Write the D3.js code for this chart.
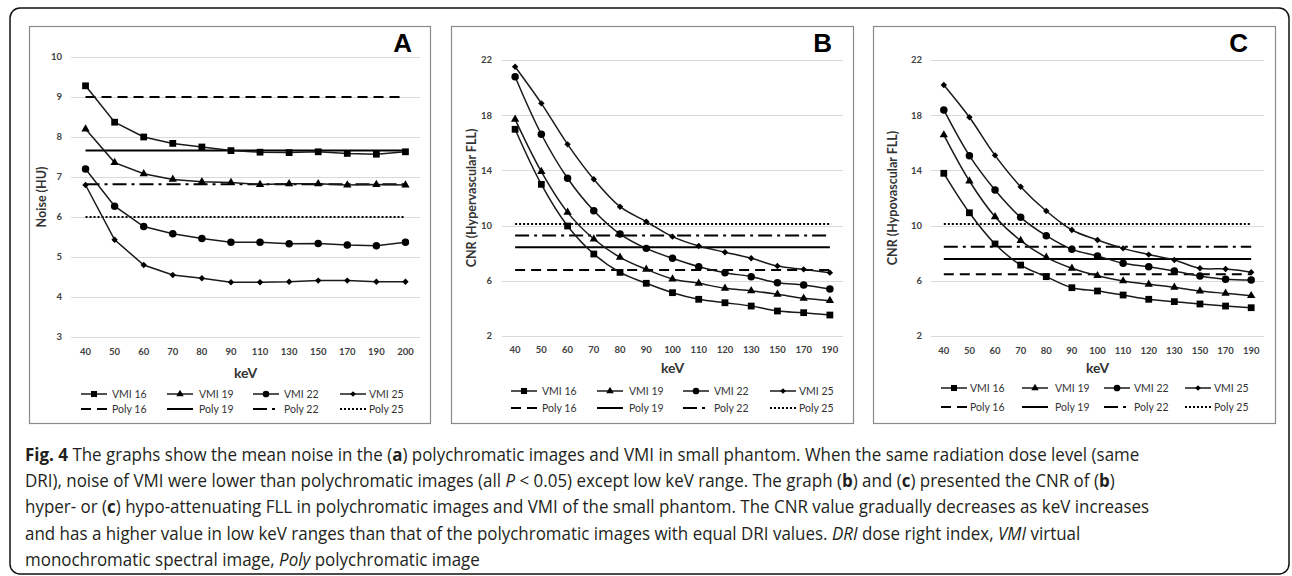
<!DOCTYPE html>
<html>
<head>
<meta charset="utf-8">
<script src="https://cdn.jsdelivr.net/npm/d3@7"></script>
<style>
  body { margin: 0; background: #fff; }
  svg { display: block; }
</style>
</head>
<body>
<svg id="fig" width="1292" height="576"></svg>
<script>
// ---- data ----
const keVA = [40, 50, 60, 70, 80, 90, 110, 130, 150, 170, 190, 200];
const keVBC = [40, 50, 60, 70, 80, 90, 100, 110, 120, 130, 150, 170, 190];

const vmiNames = ["VMI 16", "VMI 19", "VMI 22", "VMI 25"];
const polyNames = ["Poly 16", "Poly 19", "Poly 22", "Poly 25"];

// A: noise (HU)
const noiseVMI16 = [9.28, 8.37, 8.0, 7.84, 7.75, 7.66, 7.62, 7.61, 7.63, 7.59, 7.57, 7.63];
const noiseVMI19 = [8.2, 7.36, 7.08, 6.94, 6.88, 6.86, 6.81, 6.83, 6.83, 6.8, 6.81, 6.8];
const noiseVMI22 = [7.2, 6.27, 5.76, 5.58, 5.46, 5.37, 5.37, 5.33, 5.34, 5.3, 5.28, 5.37];
const noiseVMI25 = [6.8, 5.43, 4.8, 4.55, 4.47, 4.37, 4.37, 4.38, 4.41, 4.41, 4.38, 4.38];
const noisePoly = [9.0, 7.66, 6.82, 6.0];
const noiseTicks = [3, 4, 5, 6, 7, 8, 9, 10];

// B: CNR hypervascular FLL
const hyperVMI16 = [16.98, 12.99, 9.97, 7.94, 6.61, 5.82, 5.14, 4.66, 4.41, 4.17, 3.81, 3.69, 3.52];
const hyperVMI19 = [17.7, 13.91, 10.96, 9.03, 7.7, 6.83, 6.13, 5.82, 5.46, 5.28, 5.02, 4.73, 4.56];
const hyperVMI22 = [20.79, 16.62, 13.43, 11.08, 9.39, 8.35, 7.63, 7.02, 6.59, 6.3, 5.86, 5.7, 5.41];
const hyperVMI25 = [21.51, 18.86, 15.89, 13.36, 11.37, 10.29, 9.2, 8.52, 8.07, 7.63, 7.07, 6.83, 6.59];
const hyperPoly = [6.78, 8.43, 9.29, 10.12];

// C: CNR hypovascular FLL
const hypoVMI16 = [13.79, 10.93, 8.67, 7.14, 6.3, 5.5, 5.26, 4.97, 4.66, 4.49, 4.32, 4.17, 4.05];
const hypoVMI19 = [16.57, 13.23, 10.64, 8.91, 7.7, 6.91, 6.37, 5.99, 5.75, 5.53, 5.26, 5.09, 4.92];
const hypoVMI22 = [18.38, 15.07, 12.58, 10.6, 9.27, 8.28, 7.8, 7.27, 7.02, 6.71, 6.35, 6.11, 6.06];
const hypoVMI25 = [20.19, 17.85, 15.09, 12.82, 11.06, 9.68, 8.96, 8.35, 7.9, 7.51, 6.91, 6.86, 6.62];
const hypoPoly = [6.47, 7.58, 8.47, 10.12];
const cnrTicks = [2, 6, 10, 14, 18, 22];

// ---- styles ----
const FONT = "Lato, 'Open Sans', sans-serif";
const INK = "#1a1a1a";
const symbols = [d3.symbolSquare, d3.symbolTriangle, d3.symbolCircle, d3.symbolDiamond2 || d3.symbolDiamond];
const symbolSizes = [46, 30, 44, 26];
const polyDash = ["10,6", null, "14,5,3,5", "2,2"];

const svg = d3.select("#fig");

// outer frame
svg.append("rect")
    .attr("x", 10).attr("y", 8)
    .attr("width", 1279).attr("height", 566)
    .attr("rx", 10)
    .attr("fill", "none")
    .attr("stroke", "#111")
    .attr("stroke-width", 1.5);

const panels = [
    {
        letter: "A", title: "Noise (HU)",
        box: [29, 26, 430, 423], plotX: [71, 420], plotY: [337, 57],
        domain: [3, 10], ticks: noiseTicks, keV: keVA,
        vmi: [noiseVMI16, noiseVMI19, noiseVMI22, noiseVMI25], poly: noisePoly,
        curve: d3.curveLinear,
        tickRight: 62, titleX: 42, letterX: 412,
        xTickY: 355, keVY: 378, legendY: [394, 409],
        legLine: [81, 167, 253, 340], legText: [112, 199, 284, 369]
    },
    {
        letter: "B", title: "CNR (Hypervascular FLL)",
        box: [451, 26, 853, 423], plotX: [502, 843], plotY: [336, 60],
        domain: [2, 22], ticks: cnrTicks, keV: keVBC,
        vmi: [hyperVMI16, hyperVMI19, hyperVMI22, hyperVMI25], poly: hyperPoly,
        curve: d3.curveCatmullRom.alpha(0.5),
        tickRight: 492, titleX: 472, letterX: 832,
        xTickY: 353, keVY: 373, legendY: [391, 408],
        legLine: [511, 597, 683, 770], legText: [542, 629, 714, 799]
    },
    {
        letter: "C", title: "CNR (Hypovascular FLL)",
        box: [873, 26, 1275, 423], plotX: [931, 1264], plotY: [336, 60],
        domain: [2, 22], ticks: cnrTicks, keV: keVBC,
        vmi: [hypoVMI16, hypoVMI19, hypoVMI22, hypoVMI25], poly: hypoPoly,
        curve: d3.curveCatmullRom.alpha(0.5),
        tickRight: 922, titleX: 893, letterX: 1248,
        xTickY: 354, keVY: 373, legendY: [388, 407],
        legLine: [941, 1022, 1104, 1185], legText: [970, 1055, 1134, 1214]
    }
];

panels.forEach(drawPanel);

function drawPanel(p) {
    const g = svg.append("g");
    const [bx0, by0, bx1, by1] = p.box;

    g.append("rect")
        .attr("x", bx0 + 0.5).attr("y", by0 + 0.5)
        .attr("width", bx1 - bx0).attr("height", by1 - by0)
        .attr("fill", "#fff")
        .attr("stroke", "#8a8a8a")
        .attr("stroke-width", 1.2);

    const x = d3.scaleBand().domain(p.keV).range(p.plotX).padding(0);
    const cx = k => x(k) + x.bandwidth() / 2;
    const y = d3.scaleLinear().domain(p.domain).range(p.plotY);

    // gridlines
    g.append("g").selectAll("line")
        .data(p.ticks)
        .join("line")
        .attr("x1", p.plotX[0]).attr("x2", p.plotX[1])
        .attr("y1", d => Math.round(y(d)) + 0.5)
        .attr("y2", d => Math.round(y(d)) + 0.5)
        .attr("stroke", "#d9d9d9")
        .attr("stroke-width", 1.2);

    // y tick labels
    g.append("g").selectAll("text")
        .data(p.ticks)
        .join("text")
        .attr("x", p.tickRight)
        .attr("y", d => y(d))
        .attr("dy", "0.35em")
        .attr("text-anchor", "end")
        .attr("font-family", FONT)
        .attr("font-weight", 700)
        .attr("font-size", 9.5)
        .attr("fill", "#404040")
        .text(d => d);

    // x tick labels
    g.append("g").selectAll("text")
        .data(p.keV)
        .join("text")
        .attr("x", d => cx(d))
        .attr("y", p.xTickY)
        .attr("text-anchor", "middle")
        .attr("font-family", FONT)
        .attr("font-weight", 700)
        .attr("font-size", 9.5)
        .attr("fill", "#404040")
        .text(d => d);

    // axis titles
    const midX = (p.plotX[0] + p.plotX[1]) / 2;
    const midY = (p.plotY[0] + p.plotY[1]) / 2;
    g.append("text")
        .attr("x", midX).attr("y", p.keVY)
        .attr("text-anchor", "middle")
        .attr("font-family", FONT)
        .attr("font-weight", 700)
        .attr("font-size", 14)
        .attr("fill", "#333")
        .text("keV");

    g.append("text")
        .attr("transform", `translate(${p.titleX},${midY}) rotate(-90)`)
        .attr("text-anchor", "middle")
        .attr("dy", "0.35em")
        .attr("font-family", FONT)
        .attr("font-weight", 700)
        .attr("font-size", 12.5)
        .attr("fill", "#333")
        .text(p.title);

    // panel letter
    g.append("text")
        .attr("x", p.letterX).attr("y", 52)
        .attr("text-anchor", "end")
        .attr("font-family", "'Liberation Sans', Arial, sans-serif")
        .attr("font-weight", 700)
        .attr("font-size", 26)
        .attr("fill", "#000")
        .text(p.letter);

    // polychromatic reference lines
    const first = cx(p.keV[0]), last = cx(p.keV[p.keV.length - 1]);
    g.append("g").selectAll("line")
        .data(p.poly)
        .join("line")
        .attr("x1", first).attr("x2", last)
        .attr("y1", d => y(d)).attr("y2", d => y(d))
        .attr("stroke", "#000")
        .attr("stroke-width", 2)
        .attr("stroke-dasharray", (d, i) => polyDash[i]);

    // VMI series
    const line = d3.line()
        .x((d, i) => cx(p.keV[i]))
        .y(d => y(d))
        .curve(p.curve);

    p.vmi.forEach((vals, s) => {
        g.append("path")
            .attr("d", line(vals))
            .attr("fill", "none")
            .attr("stroke", INK)
            .attr("stroke-width", 1.5);

        g.append("g").selectAll("path")
            .data(vals)
            .join("path")
            .attr("transform", (d, i) => `translate(${cx(p.keV[i])},${y(d)})`)
            .attr("d", d3.symbol().type(symbols[s]).size(symbolSizes[s]))
            .attr("fill", "#000");
    });

    // legend
    const leg = g.append("g")
        .attr("font-family", FONT)
        .attr("font-size", 10.5)
        .attr("fill", "#333");

    vmiNames.forEach((name, i) => {
        const ly = p.legendY[0];
        const lx = p.legLine[i];
        leg.append("line")
            .attr("x1", lx).attr("x2", lx + 26)
            .attr("y1", ly).attr("y2", ly)
            .attr("stroke", INK).attr("stroke-width", 1.5);
        leg.append("path")
            .attr("transform", `translate(${lx + 13},${ly})`)
            .attr("d", d3.symbol().type(symbols[i]).size(symbolSizes[i] * 0.8))
            .attr("fill", "#000");
        leg.append("text")
            .attr("x", p.legText[i]).attr("y", ly)
            .attr("dy", "0.35em")
            .text(name);
    });

    polyNames.forEach((name, i) => {
        const ly = p.legendY[1];
        const lx = p.legLine[i];
        leg.append("line")
            .attr("x1", lx).attr("x2", lx + 26)
            .attr("y1", ly).attr("y2", ly)
            .attr("stroke", "#000").attr("stroke-width", 2)
            .attr("stroke-dasharray", polyDash[i]);
        leg.append("text")
            .attr("x", p.legText[i]).attr("y", ly)
            .attr("dy", "0.35em")
            .text(name);
    });
}

// ---- caption ----
const captionLines = [
    [["Fig. 4", "b"], [" The graphs show the mean noise in the ("], ["a", "b"], [") polychromatic images and VMI in small phantom. When the same radiation dose level (same"]],
    [["DRI), noise of VMI were lower than polychromatic images (all "], ["P", "i"], [" < 0.05) except low keV range. The graph ("], ["b", "b"], [") and ("], ["c", "b"], [") presented the CNR of ("], ["b", "b"], [")"]],
    [["hyper- or ("], ["c", "b"], [") hypo-attenuating FLL in polychromatic images and VMI of the small phantom. The CNR value gradually decreases as keV increases"]],
    [["and has a higher value in low keV ranges than that of the polychromatic images with equal DRI values. "], ["DRI", "i"], [" dose right index, "], ["VMI", "i"], [" virtual"]],
    [["monochromatic spectral image, "], ["Poly", "i"], [" polychromatic image"]]
];
const captionWidths = [1118, 1094, 1114, 1061];

const cap = svg.append("g")
    .attr("font-family", "'Open Sans', 'Noto Sans', sans-serif")
    .attr("font-size", 17.5)
    .attr("fill", "#231f20");

const capTexts = captionLines.map(parts => {
    const t = cap.append("text")
        .attr("x", 0)
        .attr("y", 0)
        .style("white-space", "pre");
    parts.forEach(([s, f]) => {
        t.append("tspan")
            .attr("font-weight", f === "b" ? 700 : null)
            .attr("font-style", f === "i" ? "italic" : null)
            .text(s);
    });
    return t;
});

// one horizontal squeeze for the whole caption, fitted to the full-width lines
const k = d3.mean(captionWidths, (w, i) => w / capTexts[i].node().getComputedTextLength());
capTexts.forEach((t, li) => {
    t.attr("transform", `translate(25,${461 + li * 26.2}) scale(${k},1)`);
});
</script>
</body>
</html>
